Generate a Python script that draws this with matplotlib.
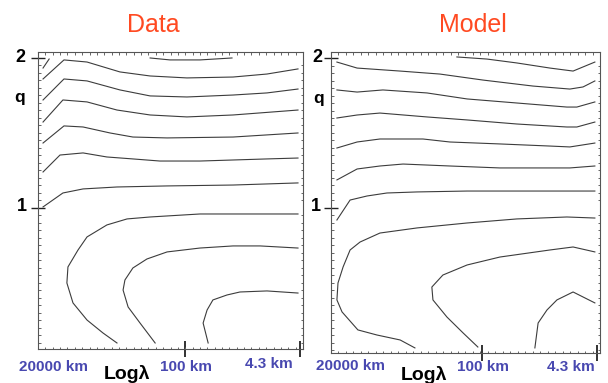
import matplotlib
matplotlib.use("Agg")
import matplotlib.pyplot as plt
from matplotlib.ticker import MultipleLocator

plt.rcParams['font.family'] = ['Liberation Sans', 'DejaVu Sans']

# contour lines: x = position along Log(lambda) (0 = left, 1 = right), q
data_x = [
    [0.019, 0.042],
    [0.423, 0.498, 0.611, 0.732],
    [0.019, 0.098, 0.185, 0.309, 0.423, 0.562, 0.736, 0.864, 0.981],
    [0.019, 0.098, 0.185, 0.309, 0.423, 0.562, 0.736, 0.864, 0.981],
    [0.019, 0.094, 0.185, 0.298, 0.423, 0.562, 0.736, 0.981],
    [0.019, 0.098, 0.170, 0.272, 0.358, 0.487, 0.736, 0.981],
    [0.019, 0.083, 0.170, 0.260, 0.358, 0.460, 0.611, 0.864, 0.981],
    [0.019, 0.094, 0.170, 0.298, 0.487, 0.736, 0.981],
    [0.298, 0.245, 0.185, 0.132, 0.109, 0.113, 0.151, 0.185, 0.260, 0.336, 0.423, 0.611, 0.981],
    [0.442, 0.385, 0.340, 0.321, 0.328, 0.358, 0.411, 0.487, 0.611, 0.736, 0.838, 0.981],
    [0.642, 0.623, 0.638, 0.660, 0.713, 0.762, 0.864, 0.981],
]
data_q = [
    [1.933, 1.993],
    [2.0, 1.987, 1.987, 2.0],
    [1.86, 1.987, 1.973, 1.907, 1.88, 1.867, 1.873, 1.893, 1.927],
    [1.72, 1.86, 1.847, 1.787, 1.747, 1.74, 1.753, 1.767, 1.793],
    [1.573, 1.72, 1.707, 1.653, 1.62, 1.607, 1.62, 1.653],
    [1.433, 1.547, 1.54, 1.5, 1.473, 1.467, 1.473, 1.5],
    [1.24, 1.353, 1.367, 1.34, 1.327, 1.313, 1.313, 1.327, 1.333],
    [1.007, 1.1, 1.127, 1.14, 1.147, 1.153, 1.167],
    [0.1, 0.167, 0.253, 0.367, 0.5, 0.607, 0.72, 0.807, 0.887, 0.927, 0.94, 0.96, 0.96],
    [0.1, 0.233, 0.34, 0.453, 0.52, 0.6, 0.66, 0.707, 0.733, 0.747, 0.747, 0.733],
    [0.1, 0.233, 0.32, 0.387, 0.42, 0.44, 0.447, 0.433],
]

model_x = [
    [0.468, 0.580, 0.691, 0.814, 0.900, 0.981],
    [0.022, 0.097, 0.257, 0.405, 0.565, 0.751, 0.888, 0.937, 0.981],
    [0.022, 0.097, 0.193, 0.357, 0.506, 0.691, 0.877, 0.914, 0.981],
    [0.022, 0.097, 0.182, 0.357, 0.506, 0.691, 0.877, 0.914, 0.981],
    [0.022, 0.097, 0.182, 0.342, 0.442, 0.628, 0.814, 0.888, 0.981],
    [0.022, 0.097, 0.182, 0.268, 0.442, 0.628, 0.814, 0.888, 0.981],
    [0.022, 0.071, 0.134, 0.208, 0.320, 0.506, 0.703, 0.981],
    [0.312, 0.257, 0.171, 0.100, 0.041, 0.022, 0.026, 0.045, 0.071, 0.108, 0.182, 0.320,
     0.506, 0.691, 0.877, 0.981],
    [0.546, 0.491, 0.431, 0.379, 0.375, 0.416, 0.506, 0.628, 0.814, 0.900, 0.981],
    [0.758, 0.770, 0.803, 0.840, 0.900, 0.981],
]
model_q = [
    [2.007, 1.993, 1.967, 1.933, 1.913, 1.973],
    [1.973, 1.933, 1.913, 1.893, 1.853, 1.813, 1.793, 1.807, 1.847],
    [1.787, 1.773, 1.787, 1.767, 1.727, 1.7, 1.673, 1.673, 1.707],
    [1.6, 1.62, 1.633, 1.607, 1.587, 1.56, 1.54, 1.54, 1.573],
    [1.4, 1.44, 1.46, 1.46, 1.44, 1.427, 1.413, 1.407, 1.433],
    [1.187, 1.26, 1.28, 1.293, 1.28, 1.267, 1.267, 1.267, 1.28],
    [0.92, 1.053, 1.08, 1.1, 1.107, 1.113, 1.113, 1.113],
    [0.067, 0.12, 0.153, 0.187, 0.307, 0.387, 0.5, 0.607, 0.72, 0.773, 0.833, 0.867,
     0.9, 0.927, 0.94, 0.933],
    [0.073, 0.167, 0.273, 0.387, 0.473, 0.553, 0.62, 0.673, 0.72, 0.74, 0.707],
    [0.067, 0.233, 0.32, 0.387, 0.44, 0.367],
]

titles = ["Data", "Model"]
q_ticks = [1, 2]
lam_labels = ["20000 km", "100 km", "4.3 km"]
data_lam_ticks = [0.555, 0.989]
model_lam_ticks = [0.561, 0.989]

RED = '#ff4a22'
BLUE = '#4848b0'

fig = plt.figure(figsize=(6.08, 3.83), dpi=100)
ax1 = fig.add_axes([0.0625, 0.0888, 0.4359, 0.7755])
ax2 = fig.add_axes([0.5444, 0.0783, 0.4424, 0.7859])

panels = [
    (ax1, data_x, data_q, data_lam_ticks, (0.06, 2.04),
     {'q': (-0.068, 0.848), '2': (-0.068, 0.983), '1': (-0.060, 0.481),
      'lab': [(0.057, -0.061), (0.558, -0.061), (0.872, -0.050)], 'log': (0.336, -0.084)}),
    (ax2, model_x, model_q, model_lam_ticks, (0.033, 2.04),
     {'q': (-0.045, 0.847), '2': (-0.052, 0.983), '1': (-0.056, 0.488),
      'lab': [(0.071, -0.043), (0.565, -0.047), (0.892, -0.047)], 'log': (0.346, -0.073)}),
]

for (ax, xs, qs, lticks, ylim, pos), title in zip(panels, titles):
    for x, q in zip(xs, qs):
        ax.plot(x, q, color='#3c3c3c', lw=0.8)
    ax.set_xlim(0, 1)
    ax.set_ylim(*ylim)

    for sp in ax.spines.values():
        sp.set_color('#555555')
        sp.set_linewidth(0.8)

    ax.set_xticks(lticks)
    ax.set_xticklabels([])
    ax.set_yticks(q_ticks)
    ax.set_yticklabels([])
    ax.xaxis.set_minor_locator(MultipleLocator(1 / 36))
    ax.yaxis.set_minor_locator(MultipleLocator(0.05))
    ax.tick_params(which='major', axis='x', direction='inout', length=11, width=1.3, color='#222222')
    ax.tick_params(which='major', axis='y', direction='inout', length=10, width=1.0, color='#222222')
    ax.tick_params(which='minor', direction='in', length=1.8, width=0.7, color='#666666',
                   top=True, right=True)

    ax.text(*pos['q'], 'q', transform=ax.transAxes, ha='center', va='center',
            fontsize=12.5, fontweight='bold')
    ax.text(*pos['2'], '2', transform=ax.transAxes, ha='center', va='center',
            fontsize=13, fontweight='bold')
    ax.text(*pos['1'], '1', transform=ax.transAxes, ha='center', va='center',
            fontsize=13, fontweight='bold')
    for (tx, ty), lab in zip(pos['lab'], lam_labels):
        ax.text(tx, ty, lab, transform=ax.transAxes, ha='center', va='center',
                fontsize=11, fontweight='bold', color=BLUE)
    ax.text(*pos['log'], 'Log\u03bb', transform=ax.transAxes, ha='center', va='center',
            fontsize=14, fontweight='bold', clip_on=False)

fig.text(153 / 608, 1 - 25 / 383, titles[0], ha='center', va='center', fontsize=18, color=RED)
fig.text(473 / 608, 1 - 25 / 383, titles[1], ha='center', va='center', fontsize=18, color=RED)

fig.savefig('out.png', dpi=100)
